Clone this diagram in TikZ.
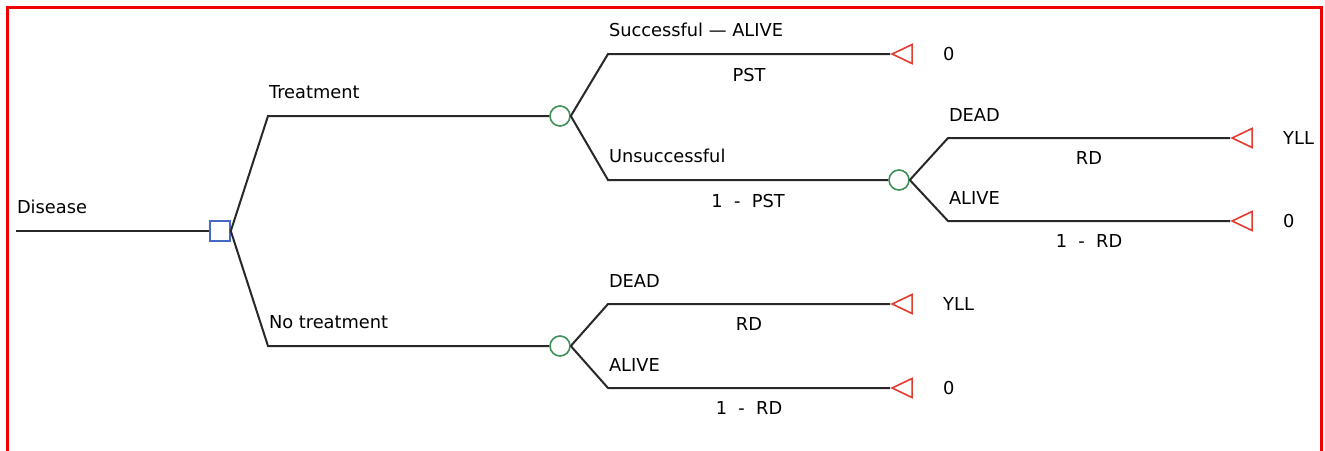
\documentclass[tikz,border=0pt]{standalone}
\usepackage{fontspec}
\setmainfont{DejaVu Sans}
\usepackage{tikz}
\usetikzlibrary{positioning,shapes.geometric}

\definecolor{treeline}{RGB}{40,40,40}
\definecolor{decblue}{RGB}{70,105,200}
\definecolor{chgreen}{RGB}{60,145,85}
\definecolor{termred}{RGB}{225,60,50}
\definecolor{frame}{RGB}{240,0,0}

\begin{document}
\begin{tikzpicture}
        [x=1pt,y=-1pt,font=\fontsize{17.8}{20}\selectfont,
         every node/.style={inner sep=0pt},
         branch/.style={draw=treeline,line width=2pt},
         decision/.style={rectangle,draw=decblue,line width=1.6pt,minimum size=20pt},
         chance/.style={circle,draw=chgreen,line width=1.6pt,minimum size=20pt},
         terminal/.style={isosceles triangle,shape border rotate=180,isosceles triangle stretches,
           draw=termred,line width=1.6pt,minimum height=20pt,minimum width=19pt,anchor=apex},
         lab/.style={anchor=south west,yshift=16pt},
         prob/.style={anchor=north,yshift=-13pt},
         pay/.style={anchor=west}]
        \useasboundingbox (0,0) rectangle (1325,450);
        \draw[frame,line width=3pt] (7,455) -- (7,7) -- (1321,7) -- (1321,455);

        % nodes of the tree
        \coordinate (dis) at (16,231);
        \node[decision] (dec) at (220,231) {};
        \node[chance] (c1) at (560,116) {};
        \node[chance] (c2) at (899,180) {};
        \node[chance] (c3) at (560,346) {};
        \node[terminal] (tr1) at (890,54) {};
        \node[terminal] (tr2) at (1230,138) {};
        \node[terminal] (tr3) at (1230,221) {};
        \node[terminal] (tr4) at (890,304) {};
        \node[terminal] (tr5) at (890,388) {};

        % elbows
        \coordinate (t1) at (268,116);
        \coordinate (n1) at (268,346);
        \coordinate (s1) at (608,54);
        \coordinate (u1) at (608,180);
        \coordinate (d2) at (948,138);
        \coordinate (a2) at (948,221);
        \coordinate (d3) at (608,304);
        \coordinate (a3) at (608,388);

        \draw[branch] (dis) node[lab] (l-dis) {Disease} -- (dec);

        \foreach \from/\via/\to/\l in {dec.east/t1/c1/Treatment, dec.east/n1/c3/No treatment}
            \draw[branch] (\from) -- (\via) node[lab] (l-\to) {\l} -- (\to);

        \foreach \from/\via/\to/\l/\p in {
            c1.east/s1/tr1/{Successful — ALIVE}/PST,
            c1.east/u1/c2/Unsuccessful/{1\ \ -\ \ PST},
            c2.east/d2/tr2/DEAD/RD,
            c2.east/a2/tr3/ALIVE/{1\ \ -\ \ RD},
            c3.east/d3/tr4/DEAD/RD,
            c3.east/a3/tr5/ALIVE/{1\ \ -\ \ RD}}
            \draw[branch] (\from) -- (\via) node[lab] (l-\to) {\l}
                -- node[prob] (p-\to) {\p} (\to);

        % payoffs
        \foreach \t/\v in {tr1/0, tr2/YLL, tr3/0, tr4/YLL, tr5/0}
            \node[pay] (v-\t) at ([xshift=53pt]\t.apex) {\v};

      \end{tikzpicture}
\end{document}
